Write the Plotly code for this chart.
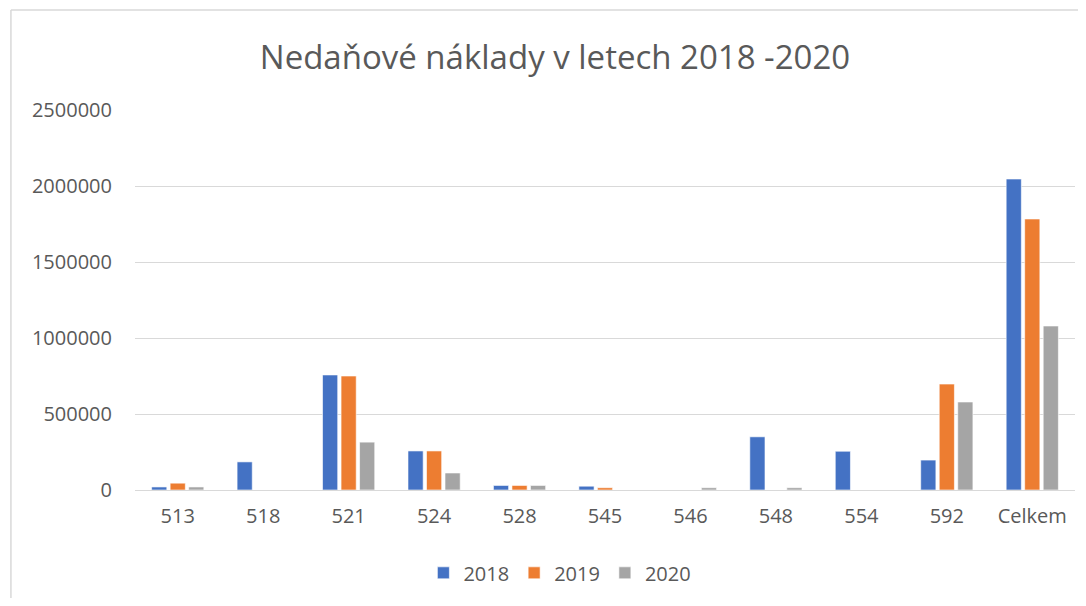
import plotly.graph_objects as go

categories = ["513", "518", "521", "524", "528", "545", "546", "548", "554", "592", "Celkem"]
v2018 = [20000, 185000, 757000, 257000, 30000, 25000, 0, 350000, 255000, 197000, 2046000]
v2019 = [45000, 0, 750000, 257000, 30000, 15000, 0, 0, 0, 697000, 1783000]
v2020 = [20000, 0, 315000, 112000, 30000, 0, 15000, 15000, 0, 579000, 1079000]
series_names = ["2018", "2019", "2020"]
colors = ["#4472C4", "#ED7D31", "#A5A5A5"]

fig = go.Figure()
for name, vals, c in zip(series_names, [v2018, v2019, v2020], colors):
    fig.add_trace(go.Bar(x=categories, y=vals, name=name,
                         marker=dict(color=c, line=dict(color="rgba(255,255,255,0.6)", width=1))))

font_family = "Open Sans, Lato, Liberation Sans, sans-serif"
W, H = 1070, 590
fig.update_layout(
    width=W, height=H,
    margin=dict(l=127, r=3, t=102, b=108),
    paper_bgcolor="white", plot_bgcolor="white",
    barmode="group", bargap=0.35, bargroupgap=0.18,
    title=dict(text="Nedaňové náklady v letech 2018 -2020", x=547 / W, xanchor="center",
               y=1 - 49 / H, yanchor="middle",
               font=dict(family=font_family, size=33, color="#595959")),
    font=dict(family=font_family, color="#595959", size=20),
    xaxis=dict(showgrid=False, showline=True, linecolor="#d9d9d9", linewidth=1,
               ticks="", ticklabelstandoff=8, tickfont=dict(size=20, color="#595959")),
    yaxis=dict(range=[0, 2500000], dtick=500000, tickformat="d", showgrid=True,
               gridcolor="#d9d9d9", gridwidth=1, zeroline=False, showline=False,
               ticks="", ticklabelstandoff=22, tickfont=dict(size=20, color="#595959")),
    legend=dict(orientation="h", x=0.452, xanchor="center", y=-0.218, yanchor="middle",
                font=dict(size=20, color="#595959"), itemwidth=30),
    showlegend=True,
)
fig.add_shape(type="line", xref="paper", yref="paper", x0=-0.132, x1=1.02, y0=1.263, y1=1.263,
              line=dict(color="#d9d9d9", width=1.5))
fig.add_shape(type="line", xref="paper", yref="paper", x0=-0.132, x1=-0.132, y0=-0.35, y1=1.263,
              line=dict(color="#d9d9d9", width=1.5))
fig.write_html("out.html")
